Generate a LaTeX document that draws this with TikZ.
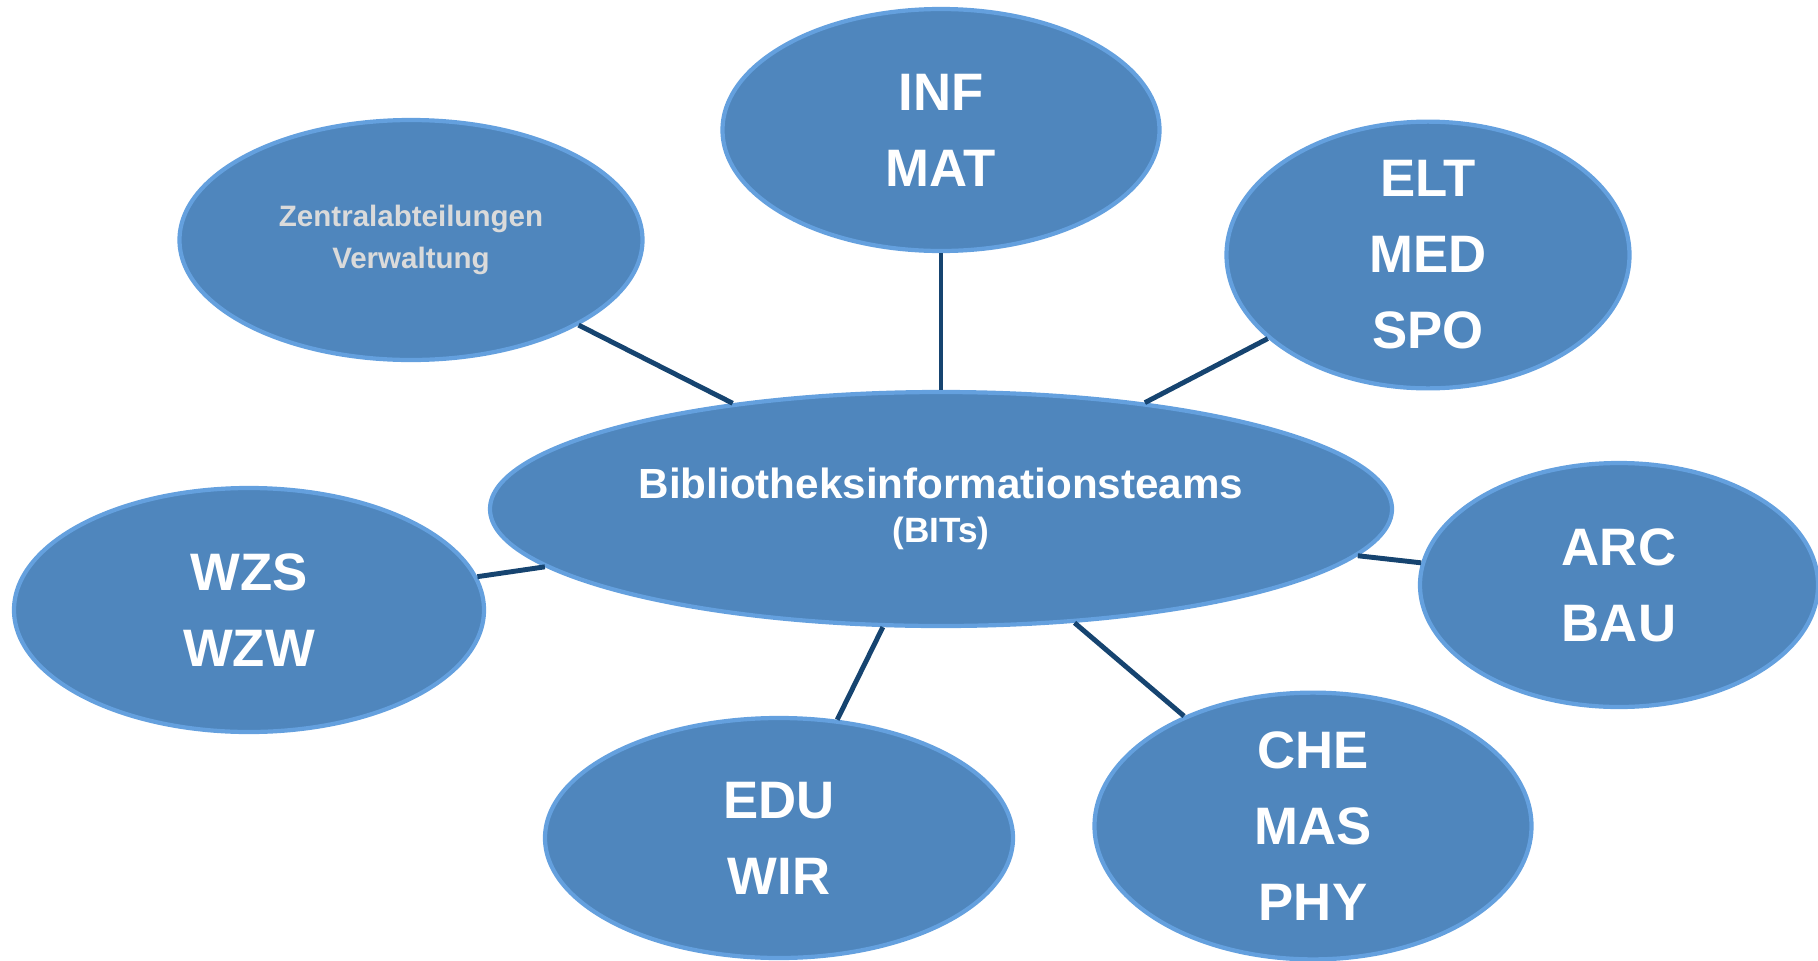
\documentclass[tikz,border=0pt]{standalone}
\usepackage{fontspec}
\setmainfont{Liberation Sans}
\usetikzlibrary{shapes.geometric}
\definecolor{bitblue}{RGB}{79,134,189}
\definecolor{bitrim}{RGB}{100,160,222}
\definecolor{linkblue}{RGB}{22,68,112}
\definecolor{greytext}{RGB}{218,218,218}

\begin{document}
\begin{tikzpicture}[
    team/.style={ellipse,fill=bitblue,draw=bitrim,line width=1.2pt,inner sep=0pt,
        text=white,align=center,font=\fontsize{15}{21.6}\selectfont\bfseries},
    link/.style={draw=linkblue,line width=1.4pt}]
                    \useasboundingbox (0,0) rectangle (18.18,9.60);
                    \node[team,minimum width=9.02cm,minimum height=2.34cm,font=\fontsize{12}{12.6}\selectfont\bfseries] (bits) at (9.41,4.51)
                        {Bibliotheksinformationsteams\\\fontsize{10}{12.6}\selectfont (BITs)};
                    \node[team,minimum width=4.63cm,minimum height=2.40cm,text=greytext,font=\fontsize{8.4}{11.9}\selectfont\bfseries] (zentral) at (4.11,7.20)
                        {Zentralabteilungen\\Verwaltung};
                    \node[team,minimum width=4.37cm,minimum height=2.42cm] (inf) at (9.41,8.30) {INF\\MAT};
                    \node[team,minimum width=4.03cm,minimum height=2.44cm] (elt) at (14.28,7.05) {ELT\\MED\\SPO};
                    \node[team,minimum width=4.70cm,minimum height=2.44cm] (wzs) at (2.49,3.50) {WZS\\WZW};
                    \node[team,minimum width=3.98cm,minimum height=2.44cm] (arc) at (16.19,3.75) {ARC\\BAU};
                    \node[team,minimum width=4.68cm,minimum height=2.40cm] (edu) at (7.79,1.22) {EDU\\WIR};
                    \node[team,minimum width=4.37cm,minimum height=2.42cm] (che) at (13.13,1.34) {CHE\\MAS\\PHY};
                    \draw[link] (bits)--(zentral);
                    \draw[link] (bits)--(inf);
                    \draw[link] (bits)--(elt);
                    \draw[link] (bits)--(wzs);
                    \draw[link] (bits)--(arc);
                    \draw[link] (bits)--(edu);
                    \draw[link] (bits)--(che);
                \end{tikzpicture}
\end{document}
